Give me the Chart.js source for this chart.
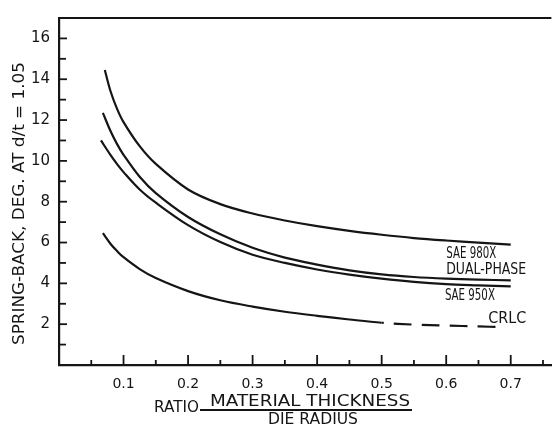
<!DOCTYPE html>
<html>
<head>
<meta charset="utf-8">
<script src="https://cdn.jsdelivr.net/npm/chart.js@4.4.0/dist/chart.umd.min.js"></script>
<style>
  html, body { margin: 0; padding: 0; background: #fff; }
  canvas { display: block; }
</style>
</head>
<body>
<canvas id="springChart" width="554" height="428"></canvas>
<script>
// ratio = material thickness / die radius
var ratio980 = [0.071, 0.08, 0.09, 0.1, 0.125, 0.15, 0.2, 0.25, 0.3, 0.35, 0.4, 0.45, 0.5, 0.55, 0.6, 0.65, 0.7];
var spring980 = [14.45, 13.4, 12.55, 11.9, 10.72, 9.85, 8.6, 7.88, 7.42, 7.08, 6.8, 6.57, 6.38, 6.22, 6.1, 6.0, 5.9];

var ratioDual = [0.068, 0.08, 0.09, 0.1, 0.125, 0.15, 0.2, 0.25, 0.3, 0.35, 0.4, 0.45, 0.5, 0.55, 0.6, 0.65, 0.7];
var springDual = [12.35, 11.45, 10.82, 10.3, 9.22, 8.42, 7.25, 6.4, 5.74, 5.26, 4.92, 4.64, 4.44, 4.31, 4.23, 4.18, 4.15];

var ratio950 = [0.065, 0.08, 0.09, 0.1, 0.125, 0.15, 0.2, 0.25, 0.3, 0.35, 0.4, 0.45, 0.5, 0.55, 0.6, 0.65, 0.7];
var spring950 = [11.0, 10.28, 9.84, 9.45, 8.6, 7.95, 6.85, 6.02, 5.4, 5.0, 4.68, 4.43, 4.23, 4.07, 3.96, 3.9, 3.85];

// CRLC is measured up to 0.5, dashed (extrapolated) after that
var ratioCrlc = [0.068, 0.08, 0.09, 0.1, 0.125, 0.15, 0.2, 0.25, 0.3, 0.35, 0.4, 0.45, 0.5, 0.55, 0.6, 0.65, 0.685];
var springCrlc = [6.46, 5.93, 5.58, 5.28, 4.7, 4.26, 3.62, 3.17, 2.86, 2.61, 2.41, 2.23, 2.07, 1.98, 1.93, 1.89, 1.86];

var seriesNames = ['SAE 980X', 'DUAL-PHASE', 'SAE 950X', 'CRLC'];
var yTickLabels = [2, 4, 6, 8, 10, 12, 14, 16];
var xTickLabels = [0.1, 0.2, 0.3, 0.4, 0.5, 0.6, 0.7];

var ink = '#151515';

function toPoints(xs, ys) {
    return xs.map(function (x, i) { return { x: x, y: ys[i] }; });
}

function curve(label, xs, ys) {
    return {
        label: label,
        data: toPoints(xs, ys),
        borderColor: ink,
        borderWidth: 2.2,
        pointRadius: 0,
        tension: 0.35,
        fill: false
    };
}

var crlc = curve(seriesNames[3], ratioCrlc, springCrlc);
// dashed part starts with a gap, like the drawing
crlc.segment = {
    borderDash: function (ctx) {
        return ctx.p0.parsed.x >= 0.5 ? [18, 10] : undefined;
    },
    borderDashOffset: function (ctx) {
        return ctx.p0.parsed.x >= 0.5 ? 16 : 0;
    }
};

// squeeze or stretch text to a given width, like the hand lettering
function fitText(ctx, text, x, y, width) {
    var w = ctx.measureText(text).width;
    ctx.save();
    ctx.translate(x, y);
    ctx.scale(width / w, 1);
    ctx.fillText(text, 0, 0);
    ctx.restore();
}

var paperPlugin = {
    id: 'paper',
    afterDraw: function (chart) {
        var ctx = chart.ctx;
        var area = chart.chartArea;
        var xs = chart.scales.x;
        var ys = chart.scales.y;

        ctx.save();
        ctx.strokeStyle = ink;
        ctx.fillStyle = ink;

        // top frame line
        ctx.lineWidth = 2;
        ctx.beginPath();
        ctx.moveTo(area.left, area.top);
        ctx.lineTo(area.right, area.top);
        ctx.stroke();

        // inward tick marks
        ctx.lineWidth = 1.8;
        ys.ticks.forEach(function (t) {
            if (t.value <= 0 || t.value >= 17) return;
            var py = ys.getPixelForValue(t.value);
            var len = t.value % 2 === 0 ? 8 : 7;
            ctx.beginPath();
            ctx.moveTo(area.left, py);
            ctx.lineTo(area.left + len, py);
            ctx.stroke();
        });
        xs.ticks.forEach(function (t) {
            var k = Math.round(t.value * 100);
            if (k <= 0) return;
            var px = xs.getPixelForValue(t.value);
            var len = k % 10 === 0 ? 10 : 5;
            ctx.beginPath();
            ctx.moveTo(px, area.bottom);
            ctx.lineTo(px, area.bottom - len);
            ctx.stroke();
        });

        // curve labels
        ctx.font = '15px "DejaVu Sans"';
        ctx.textBaseline = 'middle';
        ctx.textAlign = 'left';
        fitText(ctx, seriesNames[0], xs.getPixelForValue(0.6), ys.getPixelForValue(5.45), 50);
        fitText(ctx, seriesNames[1], xs.getPixelForValue(0.6), ys.getPixelForValue(4.64), 80);
        fitText(ctx, seriesNames[2], xs.getPixelForValue(0.598), ys.getPixelForValue(3.39), 50);
        fitText(ctx, seriesNames[3], xs.getPixelForValue(0.665), ys.getPixelForValue(2.24), 38);

        // y axis title
        ctx.font = '16px "DejaVu Sans"';
        ctx.save();
        ctx.translate(20, 345);
        ctx.rotate(-Math.PI / 2);
        fitText(ctx, 'SPRING-BACK, DEG. AT d/t = 1.05', 0, 0, 283);
        ctx.restore();

        // x axis title as a fraction
        ctx.font = '15px "DejaVu Sans"';
        fitText(ctx, 'RATIO', 154, 408, 45);
        fitText(ctx, 'MATERIAL THICKNESS', 210, 402.5, 200);
        fitText(ctx, 'DIE RADIUS', 268, 420, 90);
        ctx.lineWidth = 1.8;
        ctx.beginPath();
        ctx.moveTo(200, 410);
        ctx.lineTo(412, 410);
        ctx.stroke();

        ctx.restore();
    }
};

var chartArea = document.getElementById('springChart').getContext('2d');

var springChart = new Chart(chartArea, {
    type: 'line',
    data: {
        datasets: [
            curve(seriesNames[0], ratio980, spring980),
            curve(seriesNames[1], ratioDual, springDual),
            curve(seriesNames[2], ratio950, spring950),
            crlc
        ]
    },
    options: {
        responsive: false,
        animation: false,
        layout: { padding: { top: 11, right: 0, left: 0, bottom: 0 } },
        plugins: {
            legend: { display: false },
            tooltip: { enabled: false }
        },
        scales: {
            x: {
                type: 'linear',
                min: 0,
                max: 0.763,
                grid: { display: false, drawTicks: false },
                border: { display: true, color: ink, width: 2.2 },
                ticks: {
                    stepSize: 0.05,
                    includeBounds: false,
                    autoSkip: false,
                    maxRotation: 0,
                    padding: 11,
                    color: ink,
                    font: { family: 'DejaVu Sans', size: 14 },
                    callback: function (v) {
                        var hit = xTickLabels.find(function (l) { return Math.abs(l - v) < 1e-6; });
                        return hit === undefined ? '' : hit.toFixed(1);
                    }
                },
                afterFit: function (scale) { scale.height = 63; }
            },
            y: {
                min: 0,
                max: 17,
                grid: { display: false, drawTicks: false },
                border: { display: true, color: ink, width: 2.2 },
                ticks: {
                    stepSize: 1,
                    autoSkip: false,
                    padding: 9,
                    color: ink,
                    font: { family: 'DejaVu Sans', size: 15 },
                    callback: function (v) {
                        return yTickLabels.indexOf(v) >= 0 ? String(v) : '';
                    }
                },
                afterFit: function (scale) { scale.width = 59; }
            }
        }
    },
    plugins: [paperPlugin]
});
</script>
</body>
</html>
